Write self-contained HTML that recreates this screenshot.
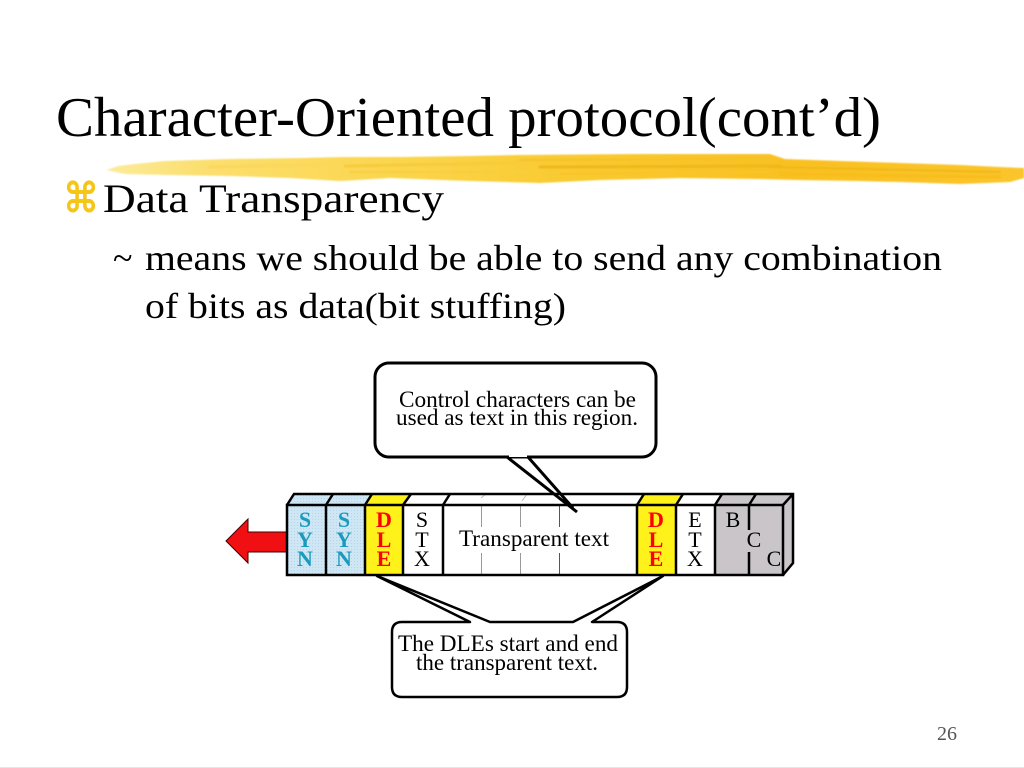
<!DOCTYPE html>
<html>
<head>
<meta charset="utf-8">
<style>
html,body{margin:0;padding:0;background:#fff;width:1024px;height:768px;overflow:hidden}
svg{display:block}
text{font-family:"Liberation Serif",serif;fill:#000}
</style>
</head>
<body>
<svg width="1024" height="768" viewBox="0 0 1024 768" xmlns="http://www.w3.org/2000/svg">
<defs>
<linearGradient id="br" x1="0" y1="0" x2="1" y2="0">
<stop offset="0" stop-color="#fdeb9c"/>
<stop offset=".1" stop-color="#fbdf70"/>
<stop offset=".3" stop-color="#fad650"/>
<stop offset=".5" stop-color="#f9ca30"/>
<stop offset=".75" stop-color="#f9c020"/>
<stop offset="1" stop-color="#fac42a"/>
</linearGradient>
<pattern id="dots" width="3" height="3" patternUnits="userSpaceOnUse">
<rect width="3" height="3" fill="#cfe7f5"/>
<rect width="1" height="1" fill="#b5d6e8"/>
</pattern>
<filter id="soft" x="-2%" y="-30%" width="104%" height="160%"><feGaussianBlur stdDeviation="0.800"/></filter>
</defs>
<rect width="1024" height="768" fill="#fff"/>
<rect x="0" y="767" width="1024" height="1" fill="#e6e6e6"/>

<!-- brush stroke -->
<g filter="url(#soft)">
<polygon fill="url(#br)" points="106,170 118,166 135,164 165,161 230,159 300,158 345,157 400,157 470,156 520,155 640,154 770,154 785,159 840,161 900,163 960,165 1000,167 1024,168 1024,178 1010,182 960,184 900,182 860,181 800,180 760,179 680,178 600,180 540,183 470,181 390,178 340,181 290,178 230,176 170,175 125,174"/>
<g fill="none" stroke-linecap="round">
<path d="M210 167L345 164" stroke="#fcd75a" stroke-width="3"/>
<path d="M345 166L520 163" stroke="#f8cb3a" stroke-width="3"/>
<path d="M350 172L530 172" stroke="#f9ce3e" stroke-width="2"/>
<path d="M520 160L770 159" stroke="#f6c12a" stroke-width="2"/>
<path d="M540 167L780 166" stroke="#efb81c" stroke-width="3"/>
<path d="M560 174L770 172" stroke="#f8c52c" stroke-width="2"/>
<path d="M770 167L1000 172" stroke="#f0b718" stroke-width="2"/>
<path d="M780 174L1000 177" stroke="#f8bd1c" stroke-width="3"/>
</g>
</g>

<!-- title and text -->
<text x="56" y="136" font-size="56" textLength="825" lengthAdjust="spacingAndGlyphs">Character-Oriented protocol(cont’d)</text>
<text x="63" y="212" font-size="41" stroke="#f5c518" stroke-width="1" style="font-family:'DejaVu Sans',sans-serif;fill:#f5c518" textLength="36" lengthAdjust="spacingAndGlyphs">⌘</text>
<text x="103" y="212" font-size="40" textLength="341" lengthAdjust="spacingAndGlyphs">Data Transparency</text>
<text x="113" y="270" font-size="36">~</text>
<text x="145" y="270" font-size="36" textLength="797" lengthAdjust="spacingAndGlyphs">means we should be able to send any combination</text>
<text x="145" y="318" font-size="36" textLength="421" lengthAdjust="spacingAndGlyphs">of bits as data(bit stuffing)</text>
<text x="937" y="740" font-size="20" style="fill:#555">26</text>

<!-- red arrow -->
<polygon points="226,541 248,519 248,532 287,532 287,552 248,552 248,563" fill="#f00f12" stroke="#400" stroke-width="1"/>

<!-- frame fills -->
<rect x="287" y="505" width="78" height="70" fill="url(#dots)"/>
<polygon points="287,505 294,494 372,494 365,505" fill="url(#dots)"/>
<rect x="365" y="505" width="38" height="70" fill="#fff21a"/>
<polygon points="365,505 372,494 411,494 403,505" fill="#fff21a"/>
<rect x="637" y="505" width="39" height="70" fill="#fff21a"/>
<polygon points="637,505 644,494 683,494 676,505" fill="#fff21a"/>
<rect x="715" y="505" width="68" height="70" fill="#c9c5c9"/>
<polygon points="715,505 722,494 793,494 783,505" fill="#c9c5c9"/>
<polygon points="783,505 793,494 793,563 783,575" fill="#c9c5c9"/>

<!-- grey thin dividers -->
<g stroke="#999" stroke-width="1" fill="none">
<path d="M481.500 505V527M481.500 553V575M520.500 505V527M520.500 553V575"/>
<path d="M559.500 505V527M559.500 553V575" stroke="#555"/>
<path d="M481 498L486 494M522 501L527 494" stroke="#bbb"/>
</g>

<!-- frame lines -->
<g stroke="#000" stroke-width="2.500" fill="none">
<rect x="287" y="505" width="496" height="70"/>
<path d="M287 505L294 494H793V563L783 575M783 505L793 494"/>
<path d="M326 505V575M365 505V575M403 505V575M443 505V575M637 505V575M676 505V575M715 505V575"/>
<path d="M326 505L333 494M365 505L372 494M403 505L411 494M443 505L450 494M637 505L644 494M676 505L683 494M715 505L722 494M749 505L756 494"/>
<path d="M749 505V530M749 552V575"/>
</g>

<!-- cell letters -->
<g font-size="22" text-anchor="middle" font-weight="bold">
<text x="305" y="527" style="fill:#1a9bbd">S</text><text x="305" y="547" style="fill:#1a9bbd">Y</text><text x="305" y="566" style="fill:#1a9bbd">N</text>
<text x="344" y="527" style="fill:#1a9bbd">S</text><text x="344" y="547" style="fill:#1a9bbd">Y</text><text x="344" y="566" style="fill:#1a9bbd">N</text>
<text x="384" y="527" style="fill:#f00">D</text><text x="384" y="547" style="fill:#f00">L</text><text x="384" y="566" style="fill:#f00">E</text>
<text x="656" y="527" style="fill:#f00">D</text><text x="656" y="547" style="fill:#f00">L</text><text x="656" y="566" style="fill:#f00">E</text>
</g>
<g font-size="22" text-anchor="middle">
<text x="422" y="527">S</text><text x="422" y="547">T</text><text x="422" y="566">X</text>
<text x="695" y="527">E</text><text x="695" y="547">T</text><text x="695" y="566">X</text>
<text x="733" y="527">B</text><text x="754" y="547">C</text><text x="774" y="566">C</text>
</g>
<text x="459" y="546" font-size="23" textLength="150" lengthAdjust="spacingAndGlyphs">Transparent text</text>

<!-- top callout -->
<rect x="375" y="363" width="281" height="94" rx="14" ry="14" fill="#fff" stroke="#000" stroke-width="3"/>
<polygon points="509,455 527,455 527,457 509,457" fill="#fff"/>
<path d="M507 457L577 512M528 457L573 508" fill="none" stroke="#000" stroke-width="3"/>
<text x="399" y="407" font-size="23" textLength="237" lengthAdjust="spacingAndGlyphs">Control characters can be</text>
<text x="396" y="425" font-size="23" textLength="242" lengthAdjust="spacingAndGlyphs">used as text in this region.</text>

<!-- bottom callout -->
<path d="M470 622L377 576L490 622H573L663 576L592 622H617Q627 622 627 632V687Q627 697 617 697H402Q392 697 392 687V632Q392 622 402 622Z" fill="#fff" stroke="#000" stroke-width="2.500" stroke-linejoin="round"/>
<text x="398" y="651" font-size="23" textLength="220" lengthAdjust="spacingAndGlyphs">The DLEs start and end</text>
<text x="416" y="670" font-size="23" textLength="182" lengthAdjust="spacingAndGlyphs">the transparent text.</text>
</svg>
</body>
</html>
